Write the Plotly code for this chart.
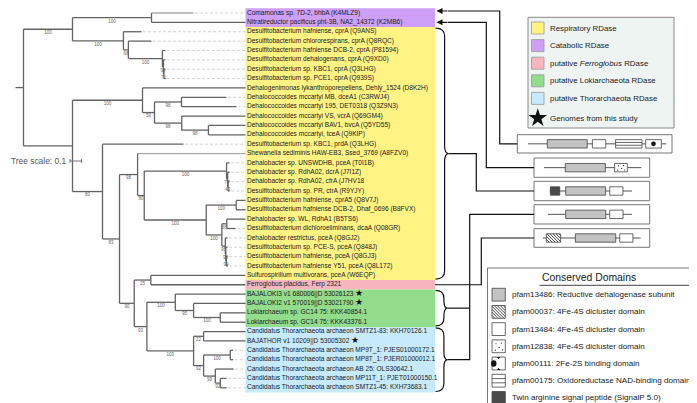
import plotly.graph_objects as go

# ---------------- DATA ----------------
LEAF_LABELS = [
    "Comamonas sp. 7D-2, bhbA (K4MLZ9)",
    "Nitratireductor pacificus pht-3B, NA2_14372 (K2MB6)",
    "Desulfitobacterium hafniense, cprA (Q9ANS)",
    "Desulfitobacterium chlororespirans, cprA (Q8RQC)",
    "Desulfitobacterium hafniense DCB-2, cprA (P81594)",
    "Desulfitobacterium dehalogenans, cprA (Q9XD0)",
    "Desulfitobacterium sp. KBC1, cprA (Q3LHG)",
    "Desulfitobacterium sp. PCE1, cprA (Q939S)",
    "Dehalogenimonas lykanthroporepellens, Dehly_1524 (D8K2H)",
    "Dehalococcoides mccartyi MB, dceA1 (C3RWJ4)",
    "Dehalococcoides mccartyi 195, DET0318 (Q3Z9N3)",
    "Dehalococcoides mccartyi VS, vcrA (Q69GM4)",
    "Dehalococcoides mccartyi BAV1, bvcA (Q5YD55)",
    "Dehalococcoides mccartyi, tceA (Q9KIP)",
    "Desulfitobacterium sp. KBC1, prdA (Q3LHG)",
    "Shewanella sediminis HAW-EB3, Ssed_3769 (A8FZV0)",
    "Dehalobacter sp. UNSWDHB, pceA (T0I1B)",
    "Dehalobacter sp. RdhA02, dcrA (J7I1Z)",
    "Dehalobacter sp. RdhA02, cfrA (J7HV18",
    "Desulfitobacterium sp. PR, ctrA (R9YJY)",
    "Desulfitobacterium hafniense, cprA5 (Q8V7J)",
    "Desulfitobacterium hafniense DCB-2, Dhaf_0696 (B8FVX)",
    "Dehalobacter sp. WL, RdhA1 (B5TS6)",
    "Desulfitobacterium dichloroeliminans, dcaA (Q08GR)",
    "Dehalobacter restrictus, pceA (Q8GJ2)",
    "Desulfitobacterium sp. PCE-S, pceA (Q848J)",
    "Desulfitobacterium hafniense, pceA (Q8GJ3)",
    "Desulfitobacterium hafniense Y51, pceA (Q8L172)",
    "Sulfurospirillum multivorans, pceA (W6EQP)",
    "Ferroglobus placidus, Ferp 2321",
    "BAJALOKI3 v1 680006||D 53026123",
    "BAJALOKI2 v1 570019||D 53021790",
    "Lokiarchaeum sp. GC14 75: KKK40854.1",
    "Lokiarchaeum sp. GC14 75: KKK43376.1",
    "Candidatus Thorarchaeota archaeon SMTZ1-83: KKH70126.1",
    "BAJATHOR v1 10209||D 53005302",
    "Candidatus Thorarchaeota archaeon MP9T_1: PJES01000172.1",
    "Candidatus Thorarchaeota archaeon MP8T_1: PJER01000012.1",
    "Candidatus Thorarchaeota archaeon AB 25: OLS30642.1",
    "Candidatus Thorarchaeota archaeon MP11T_1: PJET01000150.1",
    "Candidatus Thorarchaeota archaeon SMTZ1-45: KXH73683.1",
]
GROUP_NAMES = ["Catabolic", "Respiratory", "Ferroglobus", "Lokiarchaeota", "Thorarchaeota"]
GROUP_SIZES = [2, 27, 1, 4, 7]
STARRED_LEAVES = [30, 31, 35]
LIGHT_BRANCH_LEAVES = [0, 15]

# Tree (Newick, leaves L<i> = row i, internal labels = bootstrap, lengths in subst./site)
TREE_NEWICK = (
    "(((L0:0.365,L1:0.817)100:0.687,"
    "(L2:0.157,(L3:0.200,(L4:0.026,(L5:0.017,(L6:0.013,L7:0.013)71:0.004)95:0.009)100:0.296)68:0.043)100:0.443)100:0.426,"
    "((L8:0.896,((L9:0.391,L10:0.478)98:0.235,(L11:0.554,(L12:0.322,L13:0.322)98:0.232)98:0.237)59:0.104)100:0.609,"
    "(L14:0.704,"
    "((L15:0.939,"
    "((L16:0.026,(L17:0.017,(L18:0.013,L19:0.013)43:0.004)77:0.009)100:0.716,"
    "((L20:0.081,L21:0.081)100:0.261,"
    "((L22:0.163,L23:0.076)68:0.043,(L24:0.020,(L25:0.016,(L26:0.013,L27:0.013)94:0.004)90:0.004)95:0.030)100:0.136)100:0.539)80:0.058)98:0.157,"
    "((L28:0.822,L29:0.822)25:0.144,"
    "((L30:0.611,(L31:0.452,(L32:0.220,L33:0.220)100:0.232)95:0.159)100:0.247,"
    "((L34:0.365,L35:0.365)22:0.087,((L36:0.025,L37:0.025)100:0.232,(L38:0.160,(L39:0.055,L40:0.055)92:0.043)99:0.102)92:0.087)100:0.406)93:0.110)90:0.128)83:0.148)80:0.261):0.426);"
)
TREE_SCALE = 0.1

# Legend 1
CLASS_LEGEND = ["Respiratory RDase", "Catabolic RDase", "putative <i>Ferroglobus</i> RDase",
                "putative Lokiarchaeota RDase", "putative Thorarchaeota RDase"]
CLASS_LEGEND_KEYS = ["Respiratory", "Catabolic", "Ferroglobus", "Lokiarchaeota", "Thorarchaeota"]
STAR_LEGEND = "Genomes from this study"

# Conserved domains legend
DOMAIN_KEYS = ["RD", "4Fe4S_37", "4Fe4S_84", "4Fe4S_38", "2Fe2S", "NAD", "TAT"]
DOMAIN_NAMES = ["pfam13486: Reductive dehalogenase subunit",
                "pfam00037: 4Fe-4S dicluster domain",
                "pfam13484: 4Fe-4S dicluster domain",
                "pfam12838: 4Fe-4S dicluster domain",
                "pfam00111: 2Fe-2S binding domain",
                "pfam00175: Oxidoreductase NAD-binding domain",
                "Twin arginine signal peptide (SignalP 5.0)"]

# Domain architectures (residue coordinates)
ARCH_LENGTHS = [838, 590, 499, 509, 592]
ARCH_DOMAINS = [
    [("RD", 117, 359), ("4Fe4S_84", 390, 471), ("NAD", 531, 691), ("2Fe2S", 713, 808)],
    [("RD", 129, 372), ("4Fe4S_38", 428, 505)],
    [("TAT", 4, 61), ("RD", 97, 339), ("4Fe4S_84", 364, 444)],
    [("RD", 107, 350), ("4Fe4S_84", 374, 455)],
    [("4Fe4S_37", 20, 107), ("RD", 196, 441), ("4Fe4S_84", 465, 545)],
]

# ---------------- STYLE / LAYOUT ----------------
W, H = 697, 403
FONT = "Liberation Sans, Arial, sans-serif"
TREE_X0 = 15.5
PX_PER_UNIT = 115.0
ROW_Y0 = 5.0
ROW_H = 9.37
LABEL_X0 = 237.5
LABEL_X1 = 427.0
BRANCH_COLOR = "#636363"
LIGHT_COLOR = "#aaaaaa"
GROUP_COLORS = {"Catabolic": "#cd9ff7", "Respiratory": "#fff384", "Ferroglobus": "#f8b5bd",
                "Lokiarchaeota": "#93dc8c", "Thorarchaeota": "#c6eafb"}

shapes, annotations, traces = [], [], []


def row_y(i):
    return ROW_Y0 + i * ROW_H


def parse_newick(s):
    pos = 0

    def node():
        nonlocal pos
        n = {"children": [], "name": "", "len": 0.0, "bs": ""}
        if s[pos] == "(":
            pos += 1
            while True:
                n["children"].append(node())
                if s[pos] == ",":
                    pos += 1
                else:
                    pos += 1
                    break
        st = pos
        while pos < len(s) and s[pos] not in ":,();":
            pos += 1
        lab = s[st:pos]
        if n["children"]:
            n["bs"] = lab
        else:
            n["name"] = lab
        if pos < len(s) and s[pos] == ":":
            pos += 1
            st = pos
            while pos < len(s) and s[pos] not in ",();":
                pos += 1
            n["len"] = float(s[st:pos])
        return n

    return node()


root = parse_newick(TREE_NEWICK)


def place(n, dist):
    d = dist + n["len"]
    n["x"] = TREE_X0 + d * PX_PER_UNIT
    if n["children"]:
        for c in n["children"]:
            place(c, d)
        n["y"] = (n["children"][0]["y"] + n["children"][-1]["y"]) / 2
    else:
        n["idx"] = int(n["name"][1:])
        n["y"] = row_y(n["idx"])


place(root, 0.0)

bx, by, lx, ly, dx, dy = [], [], [], [], [], []
bs_x, bs_y, bs_t = [], [], []


def walk(n, parent):
    if parent is not None:
        if not n["children"] and n["idx"] in LIGHT_BRANCH_LEAVES:
            lx.extend([parent["x"], n["x"], None]); ly.extend([n["y"], n["y"], None])
        else:
            bx.extend([parent["x"], n["x"], None]); by.extend([n["y"], n["y"], None])
        if n["bs"]:
            bs_x.append((parent["x"] + n["x"]) / 2); bs_y.append(n["y"] + 3.8); bs_t.append(n["bs"])
    if n["children"]:
        bx.extend([n["x"], n["x"], None])
        by.extend([n["children"][0]["y"], n["children"][-1]["y"], None])
        for c in n["children"]:
            walk(c, n)
    elif n["x"] < LABEL_X0 - 1:
        dx.extend([n["x"] + 1.5, LABEL_X0, None]); dy.extend([n["y"], n["y"], None])


walk(root, None)
bx.extend([TREE_X0 - 8, TREE_X0, None]); by.extend([root["y"], root["y"], None])

# group background boxes
start = 0
group_spans = {}
for g, s in zip(GROUP_NAMES, GROUP_SIZES):
    y0 = row_y(start) - ROW_H / 2
    y1 = row_y(start + s - 1) + ROW_H / 2
    group_spans[g] = (y0, y1)
    shapes.append(dict(type="rect", x0=LABEL_X0, x1=LABEL_X1, y0=y0, y1=y1, line=dict(width=0),
                       fillcolor=GROUP_COLORS[g], layer="below"))
    start += s

label_texts = [lab + (" <span style='font-size:8.5px;color:#111'>★</span>" if i in STARRED_LEAVES else "")
               for i, lab in enumerate(LEAF_LABELS)]

traces.append(go.Scatter(x=dx, y=dy, mode="lines", line=dict(color="#c8c8c8", width=0.8, dash="3px,2px"),
                         hoverinfo="skip"))
traces.append(go.Scatter(x=lx, y=ly, mode="lines", line=dict(color=LIGHT_COLOR, width=1.3), hoverinfo="skip"))
traces.append(go.Scatter(x=bx, y=by, mode="lines", line=dict(color=BRANCH_COLOR, width=1.3), hoverinfo="skip"))
traces.append(go.Scatter(x=bs_x, y=bs_y, mode="text", text=bs_t, textposition="middle center",
                         textfont=dict(size=4.5, color="#666", family=FONT), hoverinfo="skip"))
traces.append(go.Scatter(x=[LABEL_X0 + 1.5] * len(LEAF_LABELS), y=[row_y(i) for i in range(len(LEAF_LABELS))],
                         mode="text", text=label_texts, textposition="middle right",
                         textfont=dict(size=6.55, color="#222", family=FONT), hoverinfo="skip"))

# tree scale
sb0 = 62.0
sb1 = sb0 + TREE_SCALE * PX_PER_UNIT
annotations.append(dict(x=1, y=153, text="Tree scale: %g" % TREE_SCALE, showarrow=False, xanchor="left",
                        yanchor="middle", font=dict(size=8.4, color="#555", family=FONT)))
traces.append(go.Scatter(x=[sb0, sb1, None, sb0, sb0, None, sb1, sb1], y=[153, 153, None, 151, 155, None, 151, 155],
                         mode="lines", line=dict(color="#777", width=1), hoverinfo="skip"))

# ---------- legend 1 ----------
shapes.append(dict(type="rect", x0=520, x1=666, y0=9.3, y1=120, line=dict(color="#888", width=1),
                   fillcolor="#eef4f2", layer="below"))
for k, (lab, key) in enumerate(zip(CLASS_LEGEND, CLASS_LEGEND_KEYS)):
    yc = 20 + k * 17.6
    shapes.append(dict(type="rect", x0=523.5, x1=536, y0=yc - 6, y1=yc + 6, line=dict(color="#999", width=0.8),
                       fillcolor=GROUP_COLORS[key]))
    annotations.append(dict(x=540, y=yc, text=lab, showarrow=False, xanchor="left", yanchor="middle",
                            font=dict(size=7.9, color="#222", family=FONT)))
traces.append(go.Scatter(x=[529.8], y=[110], mode="markers", marker=dict(symbol="star", size=14, color="#111"),
                         hoverinfo="skip"))
annotations.append(dict(x=540, y=110, text=STAR_LEGEND, showarrow=False, xanchor="left", yanchor="middle",
                        font=dict(size=7.9, color="#222", family=FONT)))


# ---------- domain glyphs ----------
def domain_glyph(key, x0, x1, y0, y1):
    lc = dict(color="#444", width=0.8)
    if key == "RD":
        shapes.append(dict(type="rect", x0=x0, x1=x1, y0=y0, y1=y1, line=lc, fillcolor="#c3c3c3"))
    elif key == "TAT":
        shapes.append(dict(type="rect", x0=x0, x1=x1, y0=y0, y1=y1, line=lc, fillcolor="#4a4a4a"))
    else:
        shapes.append(dict(type="rect", x0=x0, x1=x1, y0=y0, y1=y1, line=lc, fillcolor="white"))
    h = y1 - y0
    if key == "4Fe4S_37":
        step = 3.0
        t = x0 - h
        while t < x1:
            u0 = max(0.0, (x0 - t) / h)
            u1 = min(1.0, (x1 - t) / h)
            if u1 > u0:
                shapes.append(dict(type="line", x0=t + u0 * h, y0=y0 + u0 * h, x1=t + u1 * h, y1=y0 + u1 * h,
                                   line=dict(color="#333", width=0.9)))
            t += step
    elif key == "4Fe4S_38":
        w = x1 - x0
        for fx, fy in [(0.3, 0.3), (0.7, 0.25), (0.55, 0.6), (0.25, 0.8), (0.8, 0.78)]:
            cx, cy = x0 + fx * w, y0 + fy * h
            shapes.append(dict(type="circle", x0=cx - 0.6, x1=cx + 0.6, y0=cy - 0.6, y1=cy + 0.6,
                               line=dict(width=0), fillcolor="#222"))
    elif key == "NAD":
        for f in (1 / 3, 2 / 3):
            shapes.append(dict(type="line", x0=x0, x1=x1, y0=y0 + f * h, y1=y0 + f * h,
                               line=dict(color="#444", width=0.8)))
    elif key == "2Fe2S":
        cx, cy = (x0 + x1) / 2, (y0 + y1) / 2
        r = min(h, x1 - x0) * 0.28
        shapes.append(dict(type="circle", x0=cx - r, x1=cx + r, y0=cy - r, y1=cy + r, line=dict(width=0),
                           fillcolor="#111"))


def domain_icon(key, x0, x1, y0, y1):
    if key == "2Fe2S":
        shapes.append(dict(type="rect", x0=x0, x1=x1, y0=y0, y1=y1, line=dict(color="#444", width=0.8),
                           fillcolor="white"))
        cy = (y0 + y1) / 2
        r = (y1 - y0) * 0.25
        shapes.append(dict(type="circle", x0=x0 - r * 0.3, x1=x0 + r * 1.4, y0=cy - r, y1=cy + r,
                           line=dict(width=0), fillcolor="#111"))
        cx = (x0 + x1) / 2
        for yy, s in ((y0, 1), (y1, -1)):
            shapes.append(dict(type="path", path="M %f,%f L %f,%f L %f,%f Z" % (
                cx - 1.8, yy, cx + 1.8, yy, cx, yy + s * 1.8), line=dict(width=0), fillcolor="#111"))
    else:
        domain_glyph(key, x0, x1, y0, y1)


# ---------- legend 2 ----------
shapes.append(dict(type="rect", x0=479.5, x1=692.5, y0=260, y1=401.5, line=dict(color="#777", width=1),
                   fillcolor="white", layer="below"))
annotations.append(dict(x=532, y=269.5, text="Conserved Domains", showarrow=False, xanchor="left",
                        yanchor="middle", font=dict(size=10.4, color="#222", family=FONT)))
shapes.append(dict(type="line", x0=531.5, x1=686.5, y0=277.3, y1=277.3, line=dict(color="#444", width=1)))
for k, (key, name) in enumerate(zip(DOMAIN_KEYS, DOMAIN_NAMES)):
    yc = 286.7 + k * 17.2
    domain_icon(key, 484, 497.3, yc - 6.4, yc + 6.4)
    annotations.append(dict(x=502, y=yc, text=name, showarrow=False, xanchor="left", yanchor="middle",
                            font=dict(size=8.1, color="#222", family=FONT)))

# ---------- architecture diagrams ----------
DIAG_BOXES = [(509.3, 126.7, 664.0, 145.0), (526, 150, 641.7, 169.3), (526, 173.3, 641.7, 192.7),
              (526, 196.7, 641.7, 216.0), (526, 220.7, 641.7, 239.3)]
BACKBONE_X0 = [520, 536, 541.7, 540, 535]
PX_PER_AA = 0.165
for (bx0, by0, bx1, by1), bb0, L, doms in zip(DIAG_BOXES, BACKBONE_X0, ARCH_LENGTHS, ARCH_DOMAINS):
    shapes.append(dict(type="rect", x0=bx0, x1=bx1, y0=by0, y1=by1, line=dict(color="#777", width=1),
                       fillcolor="white"))
    yc = (by0 + by1) / 2
    shapes.append(dict(type="line", x0=bb0, x1=bb0 + L * PX_PER_AA, y0=yc, y1=yc,
                       line=dict(color="#555", width=1)))
    for key, a0, a1 in doms:
        domain_glyph(key, bb0 + a0 * PX_PER_AA, bb0 + a1 * PX_PER_AA, yc - 4.2, yc + 4.2)


# ---------- braces and connectors ----------
def brace(x0, yt, yb, w=13):
    ym = (yt + yb) / 2
    x1 = x0 + w * 0.7
    r = min(8, (yb - yt) / 4)
    p = ("M %f,%f Q %f,%f %f,%f L %f,%f Q %f,%f %f,%f Q %f,%f %f,%f L %f,%f Q %f,%f %f,%f" % (
        x0, yt, x1, yt, x1, yt + r, x1, ym - r, x1, ym, x0 + w, ym, x1, ym, x1, ym + r, x1, yb - r, x1, yb, x0, yb))
    shapes.append(dict(type="path", path=p, line=dict(color="#111", width=1.2)))
    return x0 + w, ym


def poly(pts):
    shapes.append(dict(type="path", path="M " + " L ".join("%f,%f" % p for p in pts),
                       line=dict(color="#111", width=1.2)))


def arrow_to(x, y, xfrom):
    annotations.append(dict(x=x, y=y, ax=xfrom, ay=y, xref="x", yref="y", axref="x", ayref="y", text="",
                            showarrow=True, arrowhead=2, arrowsize=1, arrowwidth=1.2, arrowcolor="#111"))


# catabolic arrows
y_c0 = row_y(0) - 2
y_c1 = row_y(1)
poly([(440, y_c0), (491.7, y_c0), (491.7, 135.85), (509.3, 135.85)])
arrow_to(428.5, y_c0, 441)
poly([(440, y_c1), (478.3, y_c1), (478.3, 159.65), (526, 159.65)])
arrow_to(428.5, y_c1, 441)

# respiratory brace
ry0, ry1 = group_spans["Respiratory"]
tx, ty = brace(427.5, ry0 + 1, ry1 - 1)
poly([(tx, ty), (468.3, ty), (468.3, 183), (526, 183)])

# Ferroglobus
fy = row_y(29)
poly([(LABEL_X1, fy), (473.3, fy), (473.3, 230), (526, 230)])

# Loki / Thor braces
ly0, ly1 = group_spans["Lokiarchaeota"]
tx1, ty1 = brace(427.5, ly0 + 1, ly1 - 1, w=12)
ty0_, ty1_ = group_spans["Thorarchaeota"]
tx2, ty2 = brace(427.5, ty0_ + 1, ty1_ - 1, w=12)
poly([(tx1, ty1), (461.7, ty1)])
poly([(tx2, ty2), (461.7, ty2), (461.7, 206.35), (526, 206.35)])

fig = go.Figure(traces)
fig.update_layout(
    width=W, height=H, margin=dict(l=0, r=0, t=0, b=0), showlegend=False,
    plot_bgcolor="white", paper_bgcolor="white",
    xaxis=dict(range=[0, W], visible=False, fixedrange=True),
    yaxis=dict(range=[H, 0], visible=False, fixedrange=True),
    shapes=shapes, annotations=annotations,
)
fig.write_html("out.html")
